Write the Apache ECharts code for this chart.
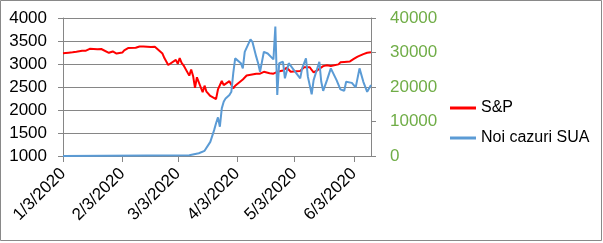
<!DOCTYPE html>
<html>
<head>
<meta charset="utf-8">
<script src="https://cdn.jsdelivr.net/npm/echarts@6/dist/echarts.min.js"></script>
<style>
html,body{margin:0;padding:0;background:#fff;}
#c{width:603px;height:243px;}
</style>
</head>
<body>
<div id="c"></div>
<script>
// S&P 500 trading days (m/d of 2020) and closes
const spDates = [
  "1/3","1/6","1/7","1/8","1/9","1/10","1/13","1/14","1/15","1/16","1/17","1/21","1/22","1/23","1/24","1/27","1/28","1/29","1/30","1/31",
  "2/3","2/4","2/5","2/6","2/7","2/10","2/11","2/12","2/13","2/14","2/18","2/19","2/20","2/21","2/24","2/25","2/26","2/27","2/28",
  "3/2","3/3","3/4","3/5","3/6","3/9","3/10","3/11","3/12","3/13","3/16","3/17","3/18","3/19","3/20","3/23","3/24","3/25","3/26","3/27","3/30","3/31",
  "4/1","4/2","4/3","4/6","4/7","4/8","4/9","4/13","4/14","4/15","4/16","4/17","4/20","4/21","4/22","4/23","4/24","4/27","4/28","4/29","4/30",
  "5/1","5/4","5/5","5/6","5/7","5/8","5/11","5/12","5/13","5/14","5/15","5/18","5/19","5/20","5/21","5/22","5/26","5/27","5/28","5/29",
  "6/1","6/2","6/3","6/4","6/5","6/8","6/9","6/10","6/11","6/12"
];
const spValues = [
  3235,3246,3237,3253,3275,3265,3288,3283,3289,3317,3330,3321,3322,3326,3295,3244,3276,3273,3284,3226,
  3249,3298,3335,3346,3328,3352,3358,3379,3374,3380,3370,3386,3373,3338,3226,3128,3116,2979,2954,
  3090,3003,3130,3024,2972,2747,2882,2741,2481,2711,2386,2529,2398,2409,2305,2237,2447,2476,2630,2541,2627,2585,
  2471,2527,2489,2664,2659,2750,2790,2790,2830,2790,2800,2830,2800,2760,2790,2795,2830,2860,2860,2920,2900,
  2831,2843,2868,2848,2881,2930,2930,2870,2820,2853,2864,2954,2923,2972,2949,2955,2992,3036,3030,3044,
  3056,3075,3110,3125,3160,3215,3235,3245,3252,3255
];
// New US cases (vertices)
const caseDates = [
  "1/3","3/9","3/10","3/14","3/17","3/20","3/22","3/23","3/24","3/25","3/26","3/27","3/28","3/30","3/31",
  "4/1","4/2","4/3","4/5","4/6","4/7","4/8","4/10","4/11","4/13","4/14","4/15","4/17","4/19","4/22","4/23","4/24","4/25","4/27","4/28","4/30",
  "5/1","5/3","5/6","5/7","5/9","5/10","5/12","5/13","5/14","5/16","5/17","5/18","5/20","5/22","5/25","5/27","5/29","5/30",
  "6/2","6/4","6/6","6/8","6/10","6/12"
];
const caseValues = [
  0,200,300,800,1500,4100,7500,9500,11200,8500,13800,15700,16700,17700,18600,
  24000,28300,28800,26900,25400,30200,30700,33800,33100,28800,26900,24400,30200,29700,28000,37500,17700,26900,27300,22500,26900,
  26400,24700,22500,25400,28300,23000,17900,22000,21500,27300,21500,18900,22000,25400,22000,19300,18900,21500,
  21200,19900,25400,21500,18600,20600
];
const leftTicks = {min:1000, max:4000, interval:500};
const rightTicks = {min:0, max:40000, interval:10000};

// calendar categories for the date axis
const categories = [];
for (let t = Date.UTC(2020,0,3); t <= Date.UTC(2020,5,12); t += 86400000) {
  const d = new Date(t);
  categories.push((d.getUTCMonth()+1) + '/' + d.getUTCDate() + '/2020');
}
const toIdx = s => categories.indexOf(s + '/2020');
const spData = spDates.map((d,i) => [toIdx(d), spValues[i]]);
const caseData = caseDates.map((d,i) => [toIdx(d), caseValues[i]]);
const isTick = (i, v) => String(v).split('/')[1] === '3';

const font = 'Liberation Sans';
const grey = '#868686';
const chart = echarts.init(document.getElementById('c'), null, {renderer:'canvas'});
chart.setOption({
  animation: false,
  backgroundColor: '#fff',
  textStyle: {fontFamily: font},
  graphic: [{
    type: 'rect', shape: {x:0.5, y:0.5, width:601, height:240},
    style: {fill: 'none', stroke: '#898989', lineWidth: 1}, silent: true, z: 100
  }],
  grid: {left: 63, right: 232, top: 18, bottom: 87, containLabel: false},
  legend: {
    data: [{name: 'S&P', icon: 'rect'}, {name: 'Noi cazuri SUA', icon: 'rect'}],
    orient: 'vertical', left: 450, top: 100, padding: 0, itemWidth: 26, itemHeight: 3, itemGap: 14,
    textStyle: {fontSize: 16, color: '#000', fontFamily: font}
  },
  xAxis: {
    type: 'category', data: categories, boundaryGap: false,
    axisLine: {show: true, lineStyle: {color: grey, width: 1}},
    axisTick: {show: true, interval: isTick, length: 6, lineStyle: {color: grey}},
    axisLabel: {interval: isTick, rotate: 45, fontSize: 17, color: '#000', fontFamily: font, margin: 15},
    splitLine: {show: false}
  },
  yAxis: [{
    type: 'value', position: 'left', min: leftTicks.min, max: leftTicks.max, interval: leftTicks.interval,
    axisLine: {show: true, lineStyle: {color: grey}},
    axisTick: {show: true, length: 5, lineStyle: {color: grey}},
    axisLabel: {fontSize: 17, color: '#000', fontFamily: font, margin: 16, formatter: v => String(v)},
    splitLine: {show: true, lineStyle: {color: grey, width: 1}}
  }, {
    type: 'value', position: 'right', min: rightTicks.min, max: rightTicks.max, interval: rightTicks.interval,
    axisLine: {show: true, lineStyle: {color: grey}},
    axisTick: {show: true, length: 5, lineStyle: {color: grey}},
    axisLabel: {fontSize: 17, color: '#70AD47', fontFamily: font, margin: 19, formatter: v => String(v)},
    splitLine: {show: false}
  }],
  series: [{
    name: 'S&P', type: 'line', yAxisIndex: 0, data: spData, symbol: 'none',
    lineStyle: {color: '#FF0000', width: 2}, itemStyle: {color: '#FF0000'}
  }, {
    name: 'Noi cazuri SUA', type: 'line', yAxisIndex: 1, data: caseData, symbol: 'none',
    lineStyle: {color: '#5B9BD5', width: 2}, itemStyle: {color: '#5B9BD5'}
  }]
});
</script>
</body>
</html>
